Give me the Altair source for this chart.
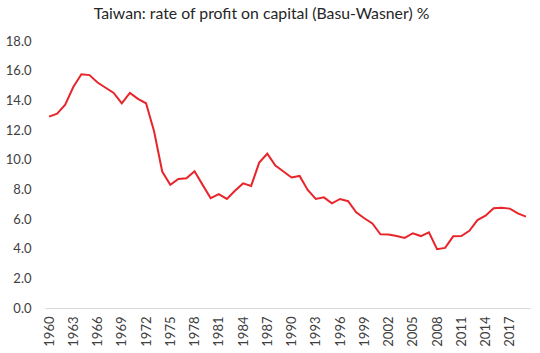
import altair as alt
import pandas as pd

years = list(range(1960, 2020))
rate = [12.9, 13.1, 13.7, 14.9, 15.76, 15.7, 15.2, 14.85, 14.5, 13.8,
        14.5, 14.1, 13.8, 11.9, 9.2, 8.3, 8.7, 8.75, 9.22, 8.3,
        7.4, 7.67, 7.35, 7.9, 8.4, 8.23, 9.8, 10.4, 9.6, 9.2,
        8.8, 8.9, 7.96, 7.35, 7.46, 7.06, 7.35, 7.2, 6.45, 6.05,
        5.7, 4.97, 4.95, 4.85, 4.72, 5.04, 4.85, 5.1, 3.96, 4.05,
        4.83, 4.85, 5.2, 5.93, 6.22, 6.72, 6.76, 6.7, 6.38, 6.16]
tick_years = list(range(1960, 2018, 3))
y_ticks = list(range(0, 19, 2))
title_text = "Taiwan: rate of profit on capital (Basu-Wasner) %"

df = pd.DataFrame({"year": years, "rate": rate})

FONT = "Lato"

chart = alt.Chart(df).mark_line(color="#e8252b", strokeWidth=2).encode(
    x=alt.X("year:O", scale=alt.Scale(type="point", padding=0.5),
            axis=alt.Axis(values=tick_years, labelAngle=-90, ticks=False,
                          domainColor="#d9d9d9", domainWidth=1, labelPadding=8,
                          labelFont=FONT, labelFontSize=13, labelColor="#404040",
                          title=None, grid=False)),
    y=alt.Y("rate:Q", scale=alt.Scale(domain=[0, 18], nice=False),
            axis=alt.Axis(values=y_ticks, format=".1f", ticks=False, domain=False,
                          grid=False, labelPadding=14, labelFont=FONT,
                          labelFontSize=13, labelColor="#404040", title=None)),
).properties(
    width=485, height=267,
    padding={"left": 45, "top": 41, "right": 10, "bottom": 45},
    autosize="none",
    title=alt.TitleParams(title_text, font=FONT, fontSize=15.8, fontWeight="normal",
                          color="#262626", anchor="middle", dx=-26, offset=12),
).configure_view(stroke=None)

chart.save("out.html", embed_options={"renderer": "svg", "actions": False})
